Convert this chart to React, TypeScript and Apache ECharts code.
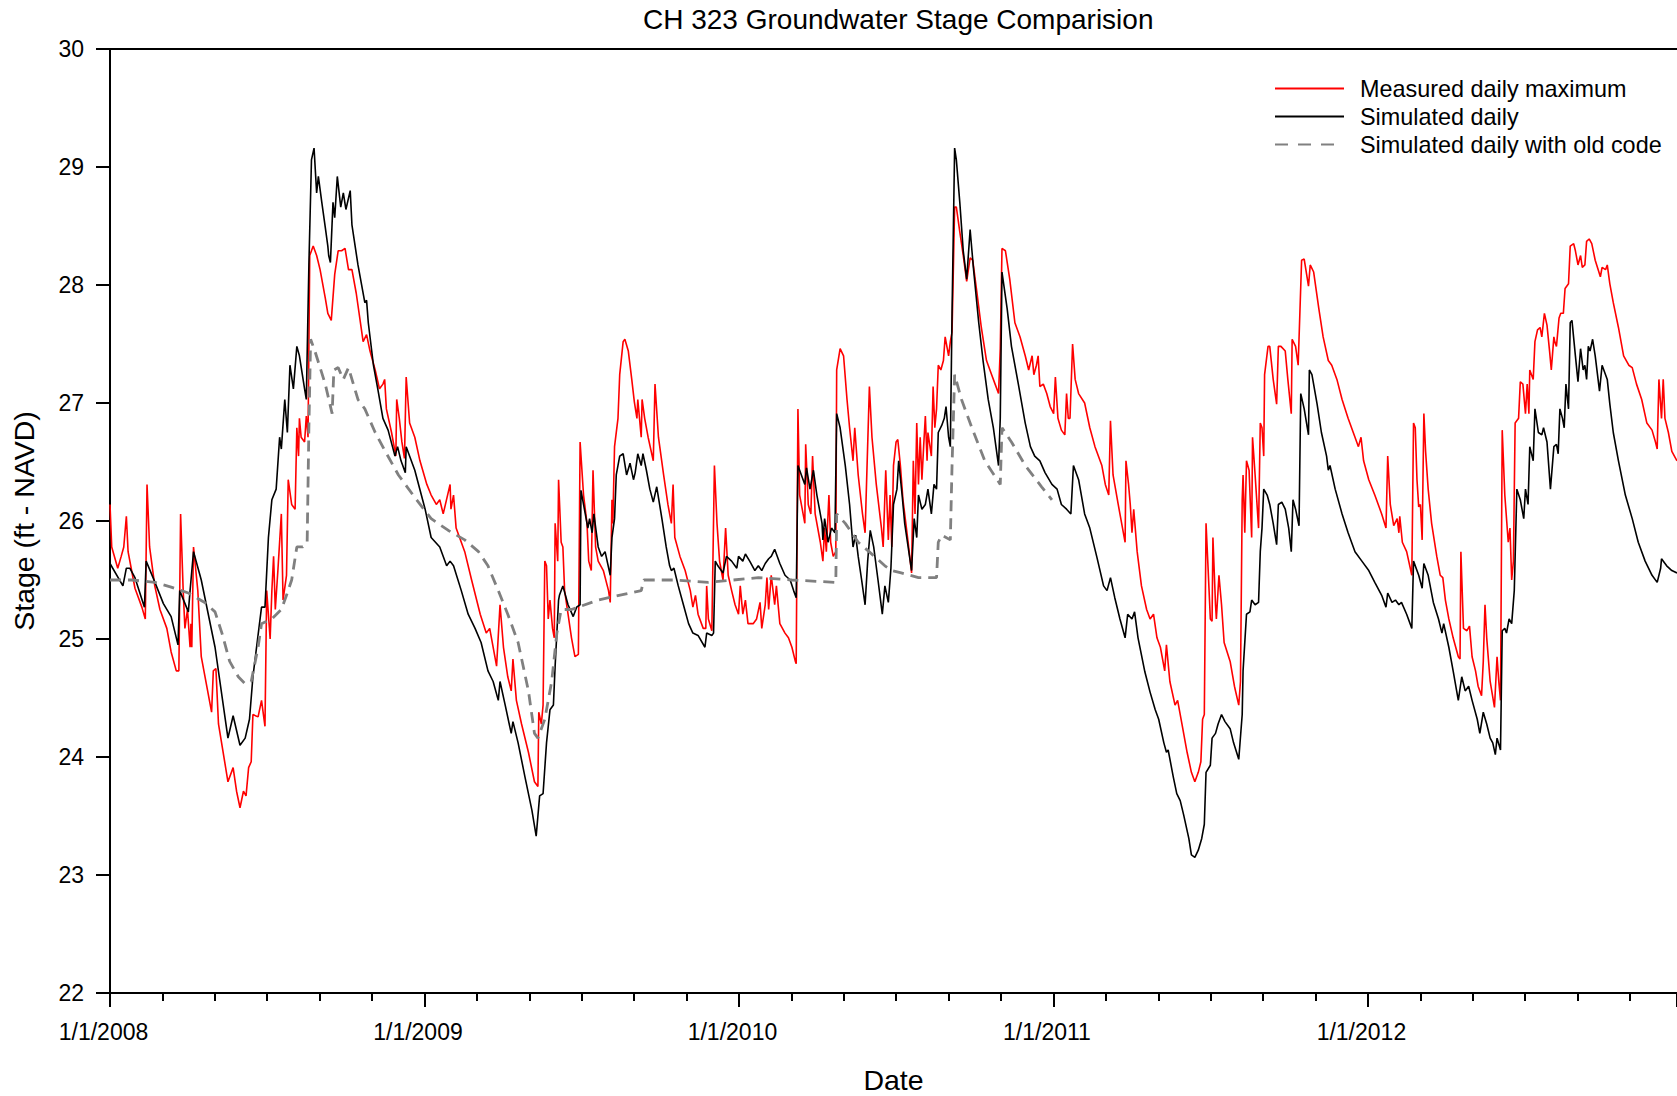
import React, { useEffect, useRef } from 'react';
import * as echarts from 'echarts';

const TITLE = 'CH 323 Groundwater Stage Comparision';
const X_NAME = 'Date';
const Y_NAME = 'Stage (ft - NAVD)';
const YEAR_LABELS = ['1/1/2008', '1/1/2009', '1/1/2010', '1/1/2011', '1/1/2012'];
const SERIES_NAMES = ['Measured daily maximum', 'Simulated daily', 'Simulated daily with old code'];
// x values are days since 1/1/2008
const DAYS_PER_YEAR = 365.25;
const X_MIN = 0;
const X_MAX = 1820;
const Y_MIN = 22;
const Y_MAX = 30;

const MEASURED_MAX: [number, number][] = [
  [0,26.14],[2,25.78],[9,25.6],[13,25.7],[16,25.78],[19,26.04],[21,25.74],[29,25.43],[37,25.27],[41,25.17],[43,26.31],[46,25.78],[52,25.45],[58,25.25],[66,25.09],[71,24.89],[77,24.73],[80,24.73],[82,26.06],[85,25.41],[87,25.09],[90,25.25],[93,24.93],[94,25.13],[95,24.93],[97,25.78],[102,25.41],[106,24.85],[118,24.38],[120,24.73],[123,24.75],[126,24.28],[137,23.79],[143,23.91],[147,23.71],[151,23.57],[155,23.71],[158,23.67],[161,23.91],[164,23.96],[166,24.36],[172,24.34],[176,24.48],[180,24.26],[182,25.41],[186,25.0],[188,25.41],[190,25.7],[192,25.25],[195,25.58],[199,26.06],[201,25.33],[205,25.54],[207,26.35],[211,26.14],[215,26.1],[217,26.79],[219,26.55],[220,26.87],[222,26.71],[226,26.67],[228,26.89],[230,26.71],[232,28.25],[236,28.33],[240,28.25],[244,28.13],[250,27.89],[253,27.76],[257,27.7],[261,28.09],[265,28.29],[269,28.29],[273,28.31],[277,28.13],[281,28.13],[286,27.93],[294,27.52],[298,27.58],
  [302,27.44],[308,27.28],[313,27.12],[317,27.16],[319,27.2],[321,26.95],[327,26.75],[332,26.55],[333,27.03],[336,26.87],[339,26.67],[342,26.53],[344,27.22],[348,26.83],[354,26.71],[360,26.51],[368,26.31],[373,26.22],[379,26.14],[383,26.18],[387,26.06],[395,26.31],[396,26.1],[399,26.22],[402,25.94],[412,25.74],[420,25.5],[430,25.21],[437,25.05],[441,25.09],[449,24.77],[453,25.29],[457,24.93],[462,24.68],[466,24.56],[468,24.83],[472,24.48],[478,24.28],[486,24.04],[493,23.79],[497,23.75],[498,24.38],[501,24.28],[503,24.44],[505,25.66],[507,25.62],[509,25.17],[511,25.33],[514,25.09],[516,25.01],[517,25.98],[520,25.66],[521,26.35],[524,25.82],[526,25.78],[528,25.41],[532,25.21],[536,25.01],[540,24.85],[544,24.87],[546,26.67],[550,26.22],[554,25.98],[556,25.66],[559,25.58],[561,26.43],[564,25.78],[567,25.66],[573,25.58],[579,25.41],[581,25.31],[583,26.18],[584,25.98],[586,26.63],[590,26.87],[592,27.24],[596,27.52],[598,27.54],
  [602,27.44],[606,27.2],[609,27.01],[612,26.87],[613,27.03],[617,26.71],[618,27.03],[621,26.87],[625,26.71],[631,26.51],[633,27.16],[637,26.71],[643,26.39],[648,26.14],[652,25.98],[654,26.31],[656,25.86],[662,25.7],[668,25.58],[674,25.41],[677,25.27],[680,25.37],[683,25.21],[689,25.09],[692,25.09],[693,25.45],[695,25.17],[699,25.07],[702,26.47],[705,25.98],[708,25.66],[712,25.5],[715,25.94],[718,25.54],[722,25.41],[726,25.29],[730,25.21],[732,25.45],[735,25.21],[738,25.33],[741,25.13],[747,25.13],[751,25.17],[755,25.31],[757,25.09],[761,25.29],[763,25.52],[765,25.25],[768,25.54],[772,25.29],[774,25.45],[778,25.13],[784,25.05],[788,25.01],[792,24.93],[796,24.81],[797,24.79],[799,26.95],[801,26.22],[805,26.06],[807,25.98],[808,26.65],[811,26.14],[814,26.06],[816,26.55],[819,26.06],[825,25.82],[828,25.66],[830,25.94],[832,25.74],[835,26.22],[837,25.82],[840,25.7],[843,25.74],[844,27.28],[848,27.46],[852,27.4],[856,27.03],[859,26.79],[863,26.51],[865,26.79],[869,26.39],[874,26.06],[877,25.9],[882,27.14],[885,26.71],[890,26.31],[896,25.94],[898,25.78],
  [901,26.43],[904,25.84],[906,26.22],[908,25.78],[910,26.47],[913,26.67],[915,26.69],[918,26.47],[921,26.18],[927,25.82],[931,25.56],[933,26.51],[935,26.06],[937,26.83],[939,26.31],[941,26.71],[943,26.35],[945,26.63],[947,26.89],[949,26.51],[950,26.75],[954,26.55],[956,27.14],[958,26.79],[960,26.95],[962,27.32],[965,27.28],[968,27.36],[970,27.56],[974,27.4],[976,27.52],[978,27.6],[981,28.66],[983,28.66],[987,28.45],[991,28.25],[995,28.03],[999,28.23],[1002,28.21],[1007,27.93],[1012,27.64],[1018,27.36],[1024,27.24],[1028,27.16],[1032,27.08],[1034,27.46],[1036,28.31],[1040,28.29],[1045,28.05],[1051,27.68],[1057,27.56],[1063,27.4],[1067,27.28],[1071,27.4],[1073,27.24],[1076,27.32],[1078,27.4],[1080,27.14],[1084,27.16],[1088,27.08],[1092,26.97],[1096,26.91],[1098,27.22],[1101,26.87],[1105,26.77],[1109,26.73],[1111,27.08],[1113,26.87],[1115,26.87],[1118,27.5],[1121,27.2],[1125,27.08],[1132,27.0],[1138,26.79],[1144,26.63],[1152,26.47],[1156,26.31],[1160,26.22],[1162,26.85],[1165,26.39],[1171,26.14],[1177,25.9],[1179,25.82],[1180,26.51],[1183,26.31],[1185,26.14],[1187,25.9],[1189,26.1],[1193,25.74],[1198,25.45],[1204,25.25],[1208,25.17],
  [1212,25.21],[1216,25.01],[1220,24.93],[1225,24.73],[1227,24.95],[1231,24.64],[1237,24.44],[1240,24.48],[1245,24.28],[1251,24.04],[1256,23.87],[1260,23.79],[1264,23.87],[1267,23.96],[1269,24.32],[1271,24.36],[1273,25.98],[1275,25.66],[1278,25.17],[1280,25.15],[1281,25.86],[1284,25.29],[1285,25.17],[1288,25.54],[1291,25.29],[1294,24.97],[1301,24.81],[1306,24.6],[1311,24.44],[1313,24.64],[1315,26.18],[1316,26.39],[1318,25.9],[1320,26.51],[1323,26.43],[1326,25.86],[1327,26.71],[1330,26.39],[1334,25.94],[1336,26.83],[1338,26.79],[1340,26.55],[1341,27.24],[1345,27.48],[1347,27.48],[1351,27.2],[1355,26.99],[1357,27.48],[1360,27.48],[1365,27.44],[1368,27.2],[1372,26.91],[1373,27.54],[1377,27.48],[1380,27.32],[1384,28.21],[1387,28.22],[1392,27.99],[1394,28.17],[1398,28.11],[1404,27.8],[1409,27.56],[1415,27.36],[1419,27.32],[1425,27.2],[1431,27.03],[1438,26.87],[1444,26.75],[1450,26.63],[1453,26.71],[1456,26.51],[1462,26.35],[1469,26.22],[1477,26.06],[1482,25.94],[1484,26.55],[1487,26.14],[1491,25.96],[1495,26.02],[1497,25.9],[1498,26.04],[1501,25.82],[1506,25.74],[1512,25.54],
  [1514,26.83],[1516,26.79],[1518,26.35],[1520,26.12],[1522,26.14],[1524,25.84],[1526,26.91],[1528,26.59],[1531,26.27],[1535,25.98],[1541,25.7],[1545,25.54],[1548,25.52],[1551,25.33],[1555,25.17],[1560,25.01],[1566,24.85],[1568,24.83],[1569,25.74],[1572,25.09],[1576,25.07],[1579,25.11],[1582,24.85],[1586,24.73],[1589,24.6],[1593,24.52],[1595,24.81],[1597,25.29],[1599,25.01],[1603,24.64],[1608,24.42],[1611,24.85],[1613,24.64],[1615,24.48],[1617,26.77],[1620,26.22],[1624,25.82],[1626,25.94],[1628,25.5],[1630,25.66],[1632,26.83],[1636,26.87],[1638,27.18],[1641,27.16],[1644,26.91],[1646,27.16],[1648,26.91],[1649,27.28],[1653,27.2],[1655,27.52],[1658,27.62],[1661,27.64],[1663,27.56],[1666,27.76],[1669,27.66],[1672,27.44],[1674,27.28],[1677,27.56],[1678,27.52],[1680,27.48],[1683,27.72],[1685,27.76],[1688,27.76],[1690,27.97],[1694,28.01],[1696,28.33],[1700,28.35],[1702,28.29],[1705,28.17],[1708,28.25],[1710,28.15],[1713,28.17],[1715,28.37],[1718,28.39],[1721,28.35],[1725,28.21],[1731,28.07],[1733,28.15],[1737,28.13],[1739,28.17],[1742,28.01],[1746,27.85],[1752,27.64],[1758,27.4],[1764,27.32],[1768,27.3],[1773,27.16],[1779,27.03],[1785,26.83],[1791,26.77],[1795,26.67],[1797,26.61],[1799,27.2],[1802,26.87],[1804,27.2],[1806,26.87],[1810,26.75],[1814,26.59],[1820,26.51]
];

const SIMULATED: [number, number][] = [
  [0,25.64],[15,25.45],[19,25.6],[23,25.6],[29,25.52],[40,25.27],[42,25.66],[50,25.52],[62,25.3],[71,25.19],[79,24.95],[81,25.41],[91,25.23],[93,25.41],[97,25.74],[106,25.5],[122,24.93],[137,24.16],[143,24.35],[151,24.1],[157,24.16],[162,24.32],[166,24.68],[176,25.27],[180,25.27],[184,25.86],[188,26.18],[193,26.27],[197,26.71],[199,26.61],[203,27.03],[206,26.75],[209,27.32],[213,27.12],[217,27.48],[220,27.4],[226,27.12],[228,27.03],[231,28.17],[234,29.06],[237,29.16],[240,28.78],[242,28.92],[246,28.7],[250,28.49],[253,28.33],[254,28.25],[256,28.19],[259,28.7],[261,28.57],[264,28.92],[268,28.66],[271,28.78],[274,28.64],[279,28.8],[281,28.51],[288,28.17],[296,27.85],[298,27.87],[300,27.68],[306,27.32],[311,27.12],[317,26.87],[323,26.77],[331,26.55],[334,26.63],[338,26.51],[343,26.41],[344,26.63],[354,26.43],[366,26.1],[373,25.86],[383,25.78],[391,25.62],[395,25.66],[399,25.62],[408,25.41],[416,25.21],[424,25.09],[431,24.97],[439,24.73],[445,24.64],[451,24.48],[453,24.64],[459,24.44],[466,24.2],[468,24.3],[474,24.12],[482,23.83],[490,23.55],[495,23.33],[499,23.67],[503,23.69],[507,24.12],[511,24.4],[515,24.44],[517,24.77],[521,25.33],[522,25.37],[526,25.45],[532,25.29],[538,25.19],[542,25.27],[546,25.29],[547,26.26],[552,26.06],[555,25.94],[557,26.02],[560,25.9],[562,26.06],[567,25.78],[571,25.7],[575,25.74],[581,25.54],[583,25.86],[586,26.02],[588,26.39],[592,26.55],[596,26.57],[600,26.39],[604,26.49],[608,26.35],
  [610,26.41],[613,26.57],[617,26.47],[619,26.57],[623,26.43],[627,26.27],[631,26.16],[635,26.29],[641,26.02],[646,25.78],[650,25.62],[652,25.58],[655,25.6],[660,25.45],[666,25.29],[672,25.13],[677,25.05],[683,25.03],[691,24.93],[693,25.05],[699,25.03],[701,25.05],[703,25.66],[706,25.62],[712,25.56],[716,25.7],[722,25.66],[728,25.6],[730,25.7],[735,25.66],[738,25.72],[743,25.66],[749,25.58],[753,25.62],[757,25.58],[761,25.64],[765,25.68],[768,25.7],[772,25.76],[778,25.64],[784,25.54],[790,25.5],[794,25.41],[797,25.35],[799,26.47],[803,26.39],[807,26.31],[809,26.45],[813,26.27],[817,26.43],[821,26.22],[827,25.98],[828,25.84],[830,26.02],[834,25.82],[838,25.94],[842,25.9],[844,26.91],[848,26.79],[854,26.47],[859,26.14],[863,25.78],[866,25.88],[869,25.7],[873,25.5],[877,25.29],[880,25.66],[883,25.92],[887,25.78],[892,25.5],[897,25.21],[900,25.45],[904,25.31],[907,25.6],[910,26.14],[914,26.27],[916,26.51],[920,26.22],[923,25.98],[931,25.58],[934,26.02],[937,25.86],[939,26.22],[943,26.1],[947,26.14],[950,26.27],[954,26.06],[957,26.31],[960,26.27],[962,26.75],[966,26.81],[969,26.87],[971,26.97],[974,26.71],[976,26.63],[978,27.76],[981,29.16],[983,29.06],[987,28.7],[991,28.29],[995,28.05],[999,28.47],[1003,28.13],[1009,27.68],[1014,27.36],[1020,27.03],[1026,26.79],[1032,26.47],[1034,26.87],[1036,28.11],[1042,27.8],[1047,27.48],[1055,27.16],[1063,26.83],[1069,26.63],[1074,26.55],[1080,26.51],[1086,26.41],[1094,26.31],[1100,26.27],[1105,26.14],[1111,26.1],[1116,26.06],[1119,26.47],[1125,26.35],[1132,26.06],[1138,25.94],[1146,25.7],[1154,25.45],[1158,25.41],[1162,25.52],[1167,25.35],[1173,25.17],[1179,25.01],[1182,25.21],[1187,25.17],[1190,25.23],[1194,25.01],[1202,24.72],[1208,24.55],
  [1214,24.4],[1218,24.32],[1224,24.12],[1227,24.04],[1229,24.06],[1235,23.83],[1239,23.69],[1243,23.63],[1247,23.51],[1253,23.31],[1256,23.17],[1260,23.15],[1264,23.21],[1268,23.31],[1271,23.43],[1273,23.87],[1278,23.93],[1280,24.16],[1284,24.2],[1287,24.28],[1291,24.36],[1295,24.3],[1301,24.24],[1305,24.12],[1311,23.98],[1315,24.36],[1316,24.73],[1320,25.21],[1324,25.23],[1326,25.33],[1330,25.29],[1334,25.31],[1336,25.74],[1338,25.94],[1340,26.27],[1344,26.22],[1347,26.14],[1351,25.98],[1355,25.8],[1357,26.14],[1361,26.16],[1365,26.1],[1369,25.94],[1372,25.74],[1374,26.18],[1377,26.1],[1381,25.96],[1383,27.08],[1387,26.95],[1392,26.73],[1393,27.28],[1396,27.24],[1402,26.99],[1407,26.75],[1413,26.55],[1415,26.43],[1417,26.47],[1423,26.27],[1431,26.06],[1438,25.9],[1446,25.74],[1454,25.66],[1462,25.58],[1469,25.48],[1477,25.37],[1482,25.27],[1484,25.39],[1489,25.31],[1493,25.33],[1497,25.29],[1500,25.31],[1506,25.21],[1512,25.09],
  [1514,25.66],[1520,25.54],[1524,25.43],[1526,25.64],[1531,25.54],[1537,25.31],[1543,25.17],[1547,25.05],[1549,25.13],[1555,24.93],[1560,24.73],[1566,24.48],[1570,24.68],[1574,24.56],[1578,24.6],[1582,24.48],[1588,24.32],[1591,24.2],[1595,24.38],[1599,24.28],[1603,24.16],[1606,24.12],[1609,24.02],[1611,24.16],[1615,24.06],[1617,25.07],[1620,25.09],[1622,25.05],[1625,25.17],[1628,25.13],[1631,25.41],[1634,26.27],[1638,26.18],[1642,26.02],[1644,26.27],[1647,26.14],[1649,26.63],[1653,26.51],[1655,26.95],[1659,26.75],[1663,26.73],[1665,26.79],[1669,26.67],[1673,26.27],[1677,26.63],[1680,26.65],[1682,26.57],[1684,26.95],[1687,26.87],[1689,26.79],[1691,27.16],[1694,26.95],[1696,27.68],[1698,27.7],[1702,27.4],[1705,27.18],[1708,27.46],[1711,27.28],[1713,27.32],[1715,27.2],[1717,27.48],[1719,27.44],[1722,27.54],[1725,27.4],[1730,27.1],[1733,27.32],[1737,27.24],[1739,27.2],[1742,26.99],[1746,26.75],[1752,26.51],[1760,26.22],[1768,26.02],[1775,25.82],[1783,25.66],[1791,25.54],[1797,25.48],[1801,25.6],[1802,25.68],[1808,25.62],[1814,25.58],[1820,25.56]
];

const SIMULATED_OLD: [number, number][] = [
  [0,25.5],[25,25.5],[52,25.48],[71,25.44],[91,25.39],[110,25.31],[122,25.23],[130,25.05],[139,24.81],[149,24.68],[157,24.62],[164,24.64],[172,24.93],[176,25.13],[188,25.17],[199,25.25],[205,25.37],[211,25.5],[217,25.78],[224,25.78],[229,25.82],[231,26.79],[233,27.54],[238,27.44],[250,27.16],[258,26.91],[260,27.28],[265,27.3],[271,27.2],[277,27.3],[288,27.03],[296,26.95],[308,26.75],[319,26.6],[335,26.39],[354,26.2],[373,26.02],[393,25.92],[412,25.84],[428,25.74],[439,25.62],[451,25.41],[462,25.21],[474,24.97],[486,24.56],[493,24.2],[497,24.16],[505,24.32],[513,24.64],[519,25.05],[524,25.25],[536,25.25],[567,25.33],[598,25.38],[617,25.41],[620,25.5],[656,25.5],[695,25.48],[753,25.52],[792,25.5],[843,25.48],[844,26.06],[854,25.98],[869,25.82],[888,25.7],[900,25.62],[908,25.58],[919,25.56],[939,25.52],[960,25.52],[962,25.82],[966,25.88],[976,25.84],[978,26.47],[981,27.24],[989,27.03],[1001,26.79],[1016,26.51],[1034,26.31],[1036,26.79],[1047,26.67],[1063,26.47],[1082,26.29],[1094,26.18]
];

const FONT = '"Liberation Sans", Arial, Helvetica, sans-serif';

export default function App() {
  const ref = useRef<HTMLDivElement>(null);

  useEffect(() => {
    if (!ref.current) return;
    const chart = echarts.init(ref.current, undefined, { renderer: 'svg' });
    const yearLabel = (v: number) => {
      const k = Math.round(v / DAYS_PER_YEAR);
      if (Math.abs(v - k * DAYS_PER_YEAR) > 1) return '';
      return YEAR_LABELS[k] ?? '';
    };
    chart.setOption({
      animation: false,
      backgroundColor: '#ffffff',
      textStyle: { fontFamily: FONT, color: '#000' },
      title: {
        text: TITLE,
        left: 643,
        top: 5,
        padding: 0,
        textStyle: { fontFamily: FONT, fontSize: 28, fontWeight: 'normal', color: '#000' },
      },
      legend: {
        orient: 'vertical',
        left: 1274,
        top: 77,
        padding: 0,
        itemWidth: 69,
        itemHeight: 14,
        itemGap: 5,
        data: [
          { name: SERIES_NAMES[0] },
          { name: SERIES_NAMES[1] },
          { name: SERIES_NAMES[2], lineStyle: { type: [13, 10] } },
        ],
        itemStyle: { opacity: 0, color: 'transparent', borderColor: 'transparent', borderWidth: 0 },
        textStyle: { fontFamily: FONT, fontSize: 23.4, color: '#000', padding: [0, 0, 0, 11] },
      },
      grid: {
        left: 110,
        right: 0,
        top: 49,
        bottom: 103,
        containLabel: false,
        outerBoundsMode: 'none',
      },
      xAxis: [
        {
          type: 'value',
          min: X_MIN,
          max: X_MAX,
          interval: DAYS_PER_YEAR,
          name: X_NAME,
          nameLocation: 'middle',
          nameGap: 72,
          nameTextStyle: { fontFamily: FONT, fontSize: 28.5, color: '#000' },
          axisLine: { show: true, onZero: false, lineStyle: { color: '#000', width: 2 } },
          axisTick: { show: true, length: 14, lineStyle: { color: '#000', width: 2 } },
          minorTick: { show: true, splitNumber: 6, length: 8, lineStyle: { color: '#000', width: 2 } },
          axisLabel: {
            fontFamily: FONT,
            fontSize: 23,
            color: '#000',
            margin: 27,
            padding: [0, 13, 0, 0],
            formatter: yearLabel,
            showMaxLabel: false,
          },
          splitLine: { show: false },
          minorSplitLine: { show: false },
        },
        {
          type: 'value',
          position: 'top',
          min: X_MIN,
          max: X_MAX,
          axisLine: { show: true, onZero: false, lineStyle: { color: '#000', width: 2 } },
          axisTick: { show: false },
          axisLabel: { show: false },
          splitLine: { show: false },
        },
      ],
      yAxis: {
        type: 'value',
        min: Y_MIN,
        max: Y_MAX,
        interval: 1,
        name: Y_NAME,
        nameLocation: 'middle',
        nameRotate: 90,
        nameGap: 72,
        nameTextStyle: { fontFamily: FONT, fontSize: 28.5, color: '#000' },
        axisLine: { show: true, onZero: false, lineStyle: { color: '#000', width: 2 } },
        axisTick: { show: true, length: 14, lineStyle: { color: '#000', width: 2 } },
        axisLabel: { fontFamily: FONT, fontSize: 23, color: '#000', margin: 26 },
        splitLine: { show: false },
      },
      series: [
        {
          name: SERIES_NAMES[0],
          type: 'line',
          data: MEASURED_MAX,
          symbol: 'none',
          showSymbol: false,
          lineStyle: { color: '#ff0000', width: 1.6 },
          itemStyle: { color: '#ff0000' },
        },
        {
          name: SERIES_NAMES[1],
          type: 'line',
          data: SIMULATED,
          symbol: 'none',
          showSymbol: false,
          lineStyle: { color: '#000000', width: 1.6 },
          itemStyle: { color: '#000000' },
        },
        {
          name: SERIES_NAMES[2],
          type: 'line',
          data: SIMULATED_OLD,
          symbol: 'none',
          showSymbol: false,
          lineStyle: { color: '#808080', width: 2.8, type: [11, 7] },
          itemStyle: { color: '#808080' },
        },
      ],
    });
    return () => chart.dispose();
  }, []);

  return (
    <div
      ref={ref}
      style={{ position: 'fixed', left: 0, top: 0, width: 1677, height: 1096, background: '#fff' }}
    />
  );
}
